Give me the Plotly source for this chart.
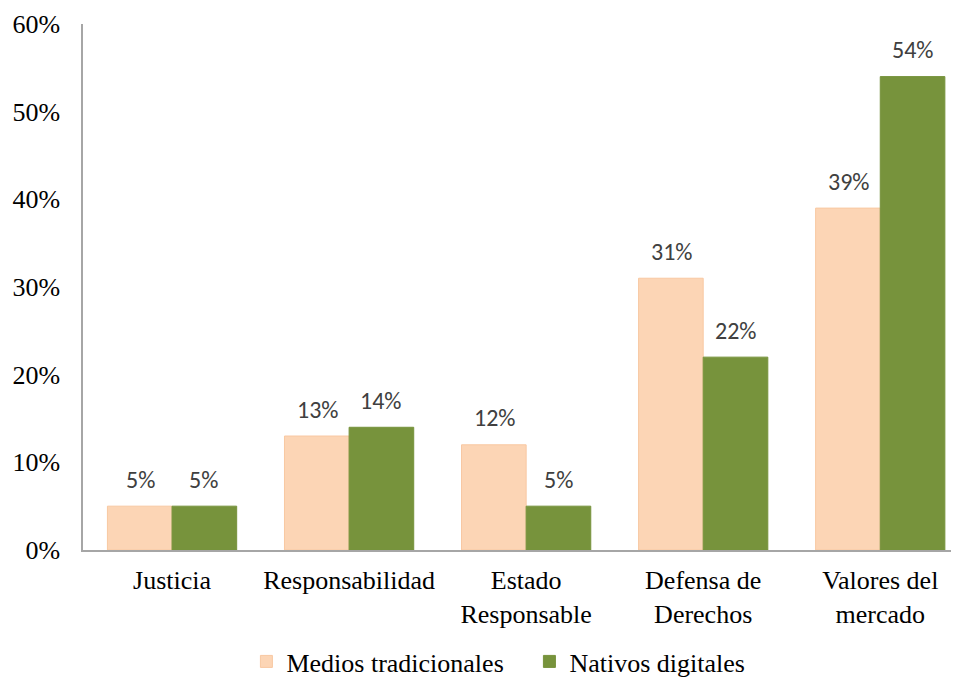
import plotly.graph_objects as go

categories = ["Justicia", "Responsabilidad", "Estado<br>Responsable", "Defensa de<br>Derechos", "Valores del<br>mercado"]
medios_tradicionales = [5, 13, 12, 31, 39]
nativos_digitales = [5, 14, 5, 22, 54]
y_ticks = [0, 10, 20, 30, 40, 50, 60]
y_tick_labels = ["0%", "10%", "20%", "30%", "40%", "50%", "60%"]

xs = list(range(len(categories)))
serif = "Liberation Serif, Times New Roman, serif"
sans = "Carlito, Open Sans, Noto Sans, sans-serif"

fig = go.Figure()
fig.add_trace(go.Bar(x=xs, y=medios_tradicionales, name="Medios tradicionales",
                     marker=dict(color="#FCD5B5", line=dict(color="#F8C8A2", width=1))))
fig.add_trace(go.Bar(x=xs, y=nativos_digitales, name="Nativos digitales",
                     marker=dict(color="#77933C", line=dict(color="#77933C", width=1))))

annotations = []
off = 0.18
for i, (a, b) in enumerate(zip(medios_tradicionales, nativos_digitales)):
    annotations.append(dict(x=i - off, y=a, text=f"{a}%", showarrow=False, yshift=27,
                            font=dict(family=sans, size=24, color="#404040")))
    annotations.append(dict(x=i + off, y=b, text=f"{b}%", showarrow=False, yshift=27,
                            font=dict(family=sans, size=24, color="#404040")))

fig.update_layout(
    width=959, height=679,
    margin=dict(l=75, r=0, t=16, b=137, autoexpand=False),
    paper_bgcolor="white", plot_bgcolor="white",
    barmode="group", bargap=0.27, bargroupgap=0,
    annotations=annotations,
    showlegend=True,
    legend=dict(orientation="h", x=0.505, xanchor="center", y=-0.212, yanchor="middle",
                font=dict(family=serif, size=26, color="#000000"),
                entrywidth=238, entrywidthmode="pixels",
                traceorder="normal"),
    xaxis=dict(range=[-0.503, 4.49], tickmode="array", tickvals=xs, ticktext=categories,
               showline=True, linecolor="#A6A6A6", linewidth=1.5, ticks="",
               tickfont=dict(family=serif, size=26, color="#000000"), showgrid=False,
               zeroline=False, automargin=False, ticklabelstandoff=6),
    yaxis=dict(range=[0, 60], tickmode="array", tickvals=y_ticks, ticktext=y_tick_labels,
               showline=True, linecolor="#A6A6A6", linewidth=1.5, ticks="",
               tickfont=dict(family=serif, size=26, color="#000000"), showgrid=False,
               zeroline=False, ticklabelstandoff=16, automargin=False),
)

fig.write_html("out.html")
